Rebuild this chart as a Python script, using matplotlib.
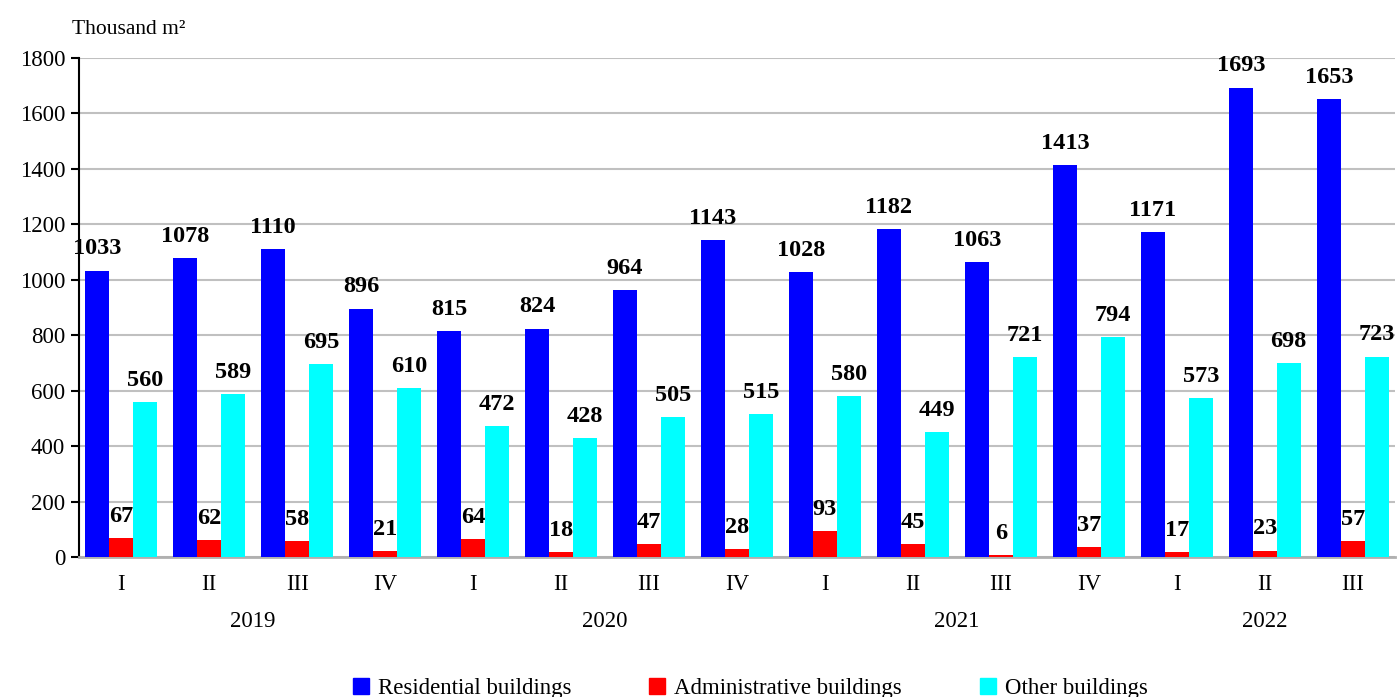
import matplotlib
matplotlib.use("Agg")
import matplotlib.pyplot as plt
import numpy as np
from matplotlib.patches import Patch

quarters = ["I", "II", "III", "IV", "I", "II", "III", "IV", "I", "II", "III", "IV", "I", "II", "III"]
years = ["2019", "2020", "2021", "2022"]
year_groups = [[0, 1, 2, 3], [4, 5, 6, 7], [8, 9, 10, 11], [12, 13, 14]]
residential = [1033, 1078, 1110, 896, 815, 824, 964, 1143, 1028, 1182, 1063, 1413, 1171, 1693, 1653]
administrative = [67, 62, 58, 21, 64, 18, 47, 28, 93, 45, 6, 37, 17, 23, 57]
other = [560, 589, 695, 610, 472, 428, 505, 515, 580, 449, 721, 794, 573, 698, 723]
series_names = ["Residential buildings", "Administrative buildings", "Other buildings"]
colors = ["#0000FF", "#FF0000", "#00FFFF"]

plt.rcParams['font.family'] = ['Liberation Serif', 'DejaVu Serif']

fig = plt.figure(figsize=(14, 6.97), dpi=100)
ax = fig.add_axes([0.0564, 0.2009, 0.94, 0.716])

x = np.arange(len(quarters))
w = 0.272
for i, (vals, c) in enumerate(zip([residential, administrative, other], colors)):
    pos = x + (i - 1) * w
    ax.bar(pos, vals, width=w, color=c, zorder=3)
    for p, v in zip(pos, vals):
        ax.annotate(str(v), (p, v), xytext=(0, 8), textcoords="offset points",
                    ha="center", va="bottom", fontsize=17.5, fontweight="bold", zorder=4)

ax.set_ylim(0, 1800)
ax.set_yticks(np.arange(0, 1801, 200))
ax.set_xlim(-0.48, len(quarters) - 0.52)
ax.yaxis.grid(True, color="#C0C0C0", linewidth=1.5, zorder=0)
ax.set_axisbelow(True)
for s in ["top", "right"]:
    ax.spines[s].set_visible(False)
ax.spines["left"].set_color("black")
ax.spines["left"].set_linewidth(1.5)
ax.spines["bottom"].set_color("#B0B0B0")
ax.spines["bottom"].set_linewidth(2)
ax.tick_params(axis="y", labelsize=16.5, length=6, width=1.5, direction="out", pad=4)
ax.set_xticks(x)
ax.set_xticklabels(quarters, fontsize=16.5)
ax.tick_params(axis="x", length=0, pad=12)

for yr, grp in zip(years, year_groups):
    ax.text(np.mean(grp), -0.13, yr, transform=ax.get_xaxis_transform(),
            ha="center", va="center", fontsize=16.5)

fig.text(0.0514, 0.957, "Thousand m²", fontsize=15.5, ha="left", va="center")

handles = [Patch(facecolor=c, edgecolor=c) for c in colors]
fig.legend(handles, series_names, loc="center", bbox_to_anchor=(0.536, 0.012),
           ncol=3, frameon=False, fontsize=16.5, handlelength=0.7, handleheight=0.7,
           handletextpad=0.4, columnspacing=3.4)

fig.savefig("out.png", dpi=100)
